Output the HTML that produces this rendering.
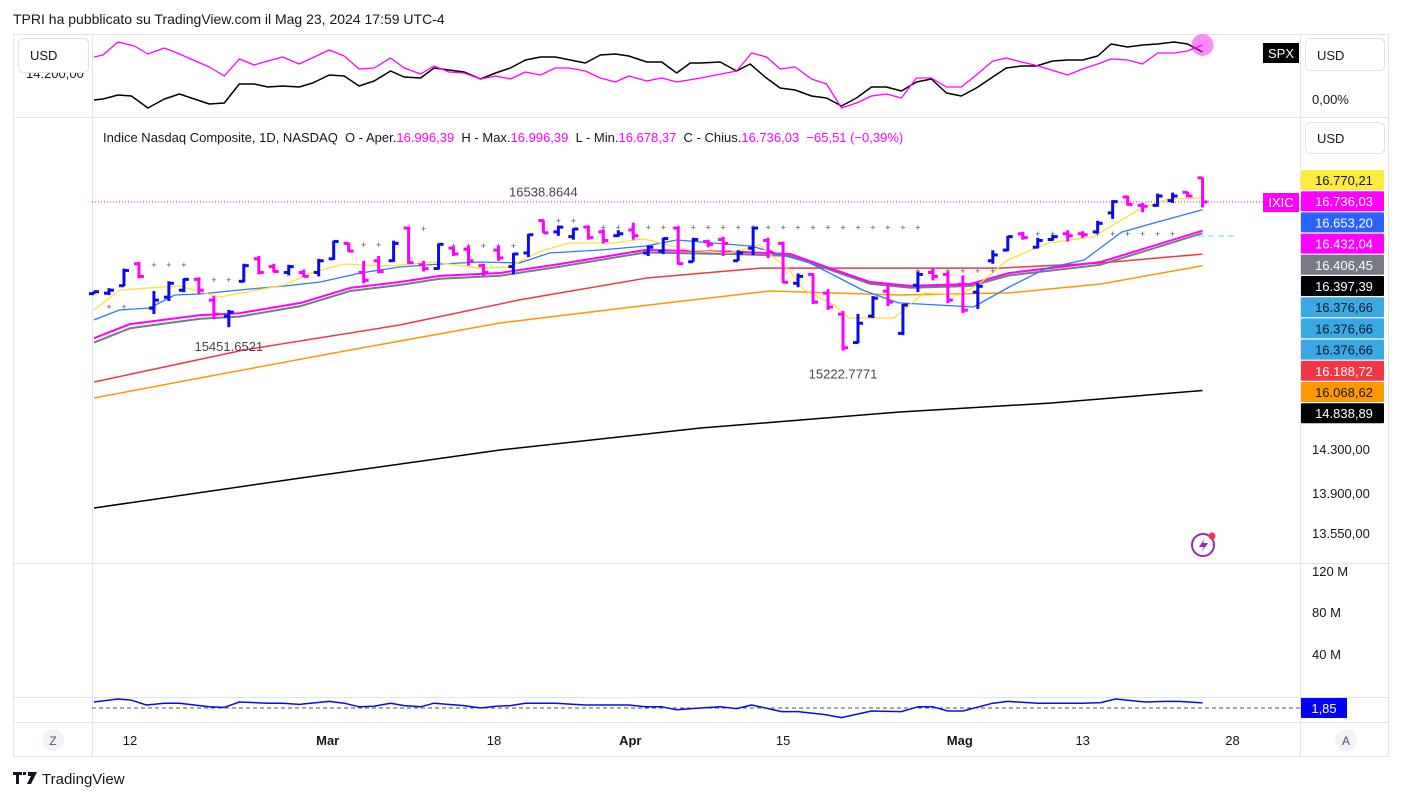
<!DOCTYPE html>
<html><head><meta charset="utf-8"><style>
html,body{margin:0;padding:0;background:#fff;width:1401px;height:801px;overflow:hidden}
svg{display:block;font-family:"Liberation Sans",sans-serif}
</style></head><body>
<svg id="c" width="1401" height="801" viewBox="0 0 1401 801" xmlns="http://www.w3.org/2000/svg">
<text x="13" y="24" font-size="14" fill="#131722">TPRI ha pubblicato su TradingView.com il Mag 23, 2024 17:59 UTC-4</text>
<rect x="13.5" y="34.5" width="1375" height="722" fill="none" stroke="#e0e3eb"/>
<g stroke="#e0e3eb">
<line x1="13" y1="117.5" x2="1388" y2="117.5"/><line x1="13" y1="563.5" x2="1388" y2="563.5"/>
<line x1="13" y1="697.5" x2="1388" y2="697.5"/><line x1="13" y1="722.5" x2="1388" y2="722.5"/>
<line x1="92.5" y1="34" x2="92.5" y2="757"/><line x1="1300.5" y1="34" x2="1300.5" y2="757"/>
</g>
<text x="26" y="78" font-size="13" fill="#131722">14.200,00</text>
<rect x="18.5" y="38.5" width="70" height="34" rx="5" fill="#fff" stroke="#e0e3eb"/>
<text x="30" y="60" font-size="13" fill="#131722">USD</text>
<rect x="1305.5" y="38.5" width="79" height="32" rx="5" fill="#fff" stroke="#e0e3eb"/>
<text x="1317" y="60" font-size="13" fill="#131722">USD</text>
<text x="1312" y="104" font-size="13" fill="#131722">0,00%</text>
<rect x="1305.5" y="122.5" width="79" height="31" rx="5" fill="#fff" stroke="#e0e3eb"/>
<text x="1317" y="143" font-size="13" fill="#131722">USD</text>
<text x="1312" y="454" font-size="13" fill="#131722">14.300,00</text>
<text x="1312" y="498" font-size="13" fill="#131722">13.900,00</text>
<text x="1312" y="538" font-size="13" fill="#131722">13.550,00</text>
<text x="1312" y="576" font-size="13" fill="#131722">120 M</text>
<text x="1312" y="617" font-size="13" fill="#131722">80 M</text>
<text x="1312" y="659" font-size="13" fill="#131722">40 M</text>
<g id="dates" font-size="13" fill="#131722" text-anchor="middle"></g>
<circle cx="53" cy="740" r="11" fill="#f0f3fa"/>
<text x="53" y="745" font-size="12" text-anchor="middle" fill="#555">Z</text>
<circle cx="1346" cy="740" r="11" fill="#f0f3fa"/>
<text x="1346" y="745" font-size="12" text-anchor="middle" fill="#555">A</text>
<text x="103" y="142" font-size="13" fill="#131722" style="white-space:pre">Indice Nasdaq Composite, 1D, NASDAQ  O - Aper.<tspan fill="#ff00ff">16.996,39</tspan>  H - Max.<tspan fill="#ff00ff">16.996,39</tspan>  L - Min.<tspan fill="#ff00ff">16.678,37</tspan>  C - Chius.<tspan fill="#ff00ff">16.736,03  −65,51 (−0,39%)</tspan></text>
<g id="topPanel"></g>
<g id="mainPanel"></g>
<g id="botPanel"></g>
<g id="tags" font-size="13"></g>
<rect x="1263" y="43" width="36" height="20" fill="#000"/>
<text x="1281" y="58" font-size="13" fill="#fff" text-anchor="middle">SPX</text>
<rect x="1263" y="193" width="36" height="19" fill="#ff00ff"/>
<text x="1281" y="207" font-size="13" fill="#fff" text-anchor="middle">IXIC</text>
<rect x="1301" y="698" width="46" height="20" fill="#0000ff"/>
<text x="1324" y="713" font-size="13" fill="#fff" text-anchor="middle">1,85</text>
<g>
<circle cx="1203" cy="545" r="11" fill="none" stroke="#9c27b0" stroke-width="2"/>
<path d="M1205 538 L1199 547 L1204 547 L1201 553 L1208 543 L1203 543 Z" fill="#9c27b0"/>
<circle cx="1212" cy="536" r="3.5" fill="#f23645"/>
</g>
<g>
<path d="M13 772 h9 v3 h-3 v9 h-3 v-9 h-3 z M23 772 h3 v3 h-3 z M28 772 h9 l-6 12 h-4 l4 -8 h-3 z" fill="#131722"/>
<text x="42" y="784" font-size="15" fill="#131722">TradingView</text>
</g>
</svg>
<script>
// ---- data ----
const dateLabels = ["12","Mar","18","Apr","15","Mag","13","28"];
const dateIdx = [2.4,15.6,26.7,35.8,46,57.8,66,76];
const barO = [15785,15790,15865,16090,15640,15750,15820,15930,15720,15560,15910,16140,16060,16000,16000,16000,16140,16300,16000,16120,16120,16460,16080,16040,16250,16240,16070,16230,16060,16200,16539,16420,16370,16470,16420,16380,16440,16200,16220,16460,16110,16320,16340,16120,16250,16330,16300,15890,15980,15790,15580,15300,15560,15810,15390,15870,16000,15980,15880,15800,16120,16230,16400,16260,16340,16400,16400,16420,16620,16790,16700,16700,16750,16840,16996];
const barH = [15811,15840,16040,16109,15811,15910,15940,15950,15761,15622,16089,16169,16089,16079,16030,16139,16328,16308,16119,16169,16328,16477,16119,16298,16268,16278,16089,16278,16199,16398,16539,16487,16457,16487,16447,16437,16517,16278,16358,16477,16358,16338,16368,16229,16477,16358,16318,15990,15990,15831,15612,15582,15761,15880,15681,16010,16050,16010,15970,15890,16229,16378,16418,16358,16388,16437,16428,16537,16756,16806,16726,16826,16836,16845,16996];
const barL = [15781,15771,15860,15940,15582,15711,15800,15781,15532,15451,15900,15980,16000,15970,15950,15960,16130,16209,15890,15990,16109,16089,16010,16030,16169,16070,15960,16119,15980,16159,16408,16378,16338,16338,16298,16368,16338,16169,16189,16080,16109,16258,16169,16119,16179,16149,15890,15850,15681,15622,15223,15293,15542,15661,15373,15801,15920,15691,15592,15632,16089,16219,16338,16249,16328,16318,16358,16408,16557,16696,16627,16686,16726,16786,16678];
const barC = [15805,15820,16020,15960,15720,15890,15930,15820,15580,15600,16070,16000,16010,16060,15960,16120,16320,16220,15920,16010,16300,16100,16040,16290,16190,16120,16000,16150,16190,16390,16410,16470,16450,16360,16330,16400,16380,16260,16350,16090,16340,16290,16300,16200,16460,16210,15900,15960,15700,15650,15250,15490,15740,15700,15670,15980,15960,15720,15620,15860,16180,16370,16360,16330,16370,16380,16390,16510,16740,16710,16690,16800,16800,16800,16736];
const maYellowIdx = [0,1.7,5.7,8.4,12.7,14.7,16.7,19.7,22.7,25.7,27.7,29.7,31.7,34.7,36.7,39.7,42.4,44.4,46.4,47.4,49.4,50.4,53.4,55.4,57.7,59,61,63.7,66.7,69.7,71.7,74];
const maYellow = [15621,15822,15863,15751,15873,16005,16087,16067,16107,16045,16056,16211,16304,16304,16346,16231,16200,16283,16025,15822,15672,15542,15542,15793,15772,15873,16128,16304,16367,16650,16768,16779];
const maBlueIdx = [0,1.7,3.7,5.4,7.1,9.7,12.8,15.1,17.8,20.4,23.1,25.8,28.4,30.4,33.8,36.8,38.9,43.9,47.8,51.3,53.7,56.2,58.7,61.1,63.6,66.1,68.6,71,74];
const maBlue = [15523,15621,15641,15772,15782,15822,15863,15903,15995,16056,16087,16107,16097,16200,16231,16272,16335,16272,16097,15822,15692,15672,15651,15852,16045,16128,16418,16524,16653];
const maSlowIdx = [0,2.4,7.1,9.7,13.8,17.1,20.4,23.1,27.1,31.1,36.8,43.1,46.5,49.1,51.8,54.5,58.5,61.1,67.2,74];
const maMagenta = [15343,15481,15571,15590,15692,15843,15903,15965,15995,16087,16231,16211,16189,16045,15903,15863,15883,15995,16107,16432];
const maGray = [15300,15440,15535,15556,15660,15812,15873,15936,15967,16060,16205,16188,16170,16030,15885,15845,15862,15970,16080,16406];
const maRedIdx = [0,10,20.4,28.4,36.9,44.5,53.8,60.5,67.2,74];
const maRed = [14920,15228,15473,15722,15944,16045,16045,16045,16097,16189];
const maOrangeIdx = [0,7.1,17.1,27.1,37.1,45.1,53.8,61.1,67.2,74];
const maOrange = [14768,14959,15228,15492,15672,15812,15772,15793,15883,16069];
const maBlackIdx = [0,13.8,27.1,40.5,53.8,63.8,74];
const maBlack = [13767,14033,14286,14488,14637,14720,14839];
const crossStart = [1,4,7,17,21,24,30,33,55,62];
const crossEnd = [2,6,9,19,22,28,32,55,60,72];
const crossPrice = [15651,16076,15923,16283,16450,16272,16534,16465,16015,16398];
const lastClose = 16736;
const topMagIdx = [0,0.6,1.6,2.7,3.6,4.7,5.7,7.7,8.7,9.7,10.7,11.6,12.6,13.7,15.7,16.7,17.7,18.7,19.8,20.7,21.8,22.7,23.7,24.7,25.8,26.8,27.8,28.8,29.8,30.8,31.7,32.8,33.8,34.8,35.7,36.9,37.9,38.9,40.5,42.9,43.9,44.9,45.8,46.8,47.9,48.9,49.9,50.9,51.9,52.9,53.9,54.9,55.9,56.9,57.9,58.9,60,60.9,61.9,62.8,65,66,67,67.9,69,70,71,72.1,73,74];
const topMag = [4.2,4.4,5.7,5.3,4.5,5.1,4.5,3.2,2.3,4.0,3.4,3.8,4.2,3.5,4.9,4.3,3.0,3.1,4.1,3.1,2.5,3.3,2.7,2.6,2.0,2.3,2.0,2.7,2.4,3.1,3.1,2.8,2.1,1.7,2.3,1.8,2.1,1.7,2.1,2.8,4.6,4.2,3.0,3.2,2.0,1.5,-0.9,-0.4,0.3,0.5,0.1,2.1,2.1,1.2,1.2,2.4,3.8,4.1,3.7,3.4,2.4,3.0,3.5,4.0,3.9,3.5,4.6,4.6,4.8,5.4];
const topBlkIdx = [0,0.6,1.6,2.5,3.6,4.7,5.7,7.7,8.7,9.7,10.7,11.6,12.6,13.7,14.6,15.7,16.7,17.7,18.7,19.8,20.7,21.8,22.7,24.7,25.8,26.8,27.8,28.8,29.8,30.8,32.8,33.8,34.8,35.7,36.9,37.9,38.9,39.8,40.5,41.8,42.9,43.8,44.8,45.8,46.8,47.9,48.9,49.9,50.9,51.9,52.9,53.9,54.9,55.9,56.9,57.9,58.9,60,60.9,61.9,62.9,64,65,66,67,67.9,69,70,71,72.1,73,74];
const topBlk = [-0.1,0,0.4,0.3,-0.9,0,0.5,-0.5,-0.4,1.5,1.5,1.2,1.3,1.2,1.6,2.4,2.3,1.3,1.8,2.8,2.2,2.1,3.1,2.7,2.0,2.6,3.1,3.9,4.2,4.2,3.6,4.4,4.5,4.3,3.7,3.7,2.6,3.6,3.6,3.7,2.8,3.5,2.2,1.1,0.9,0.3,0.1,-0.7,0.1,1.2,1.2,0.8,1.7,2.0,0.6,0.3,1.1,2.2,3.1,3.3,3.3,3.8,3.9,3.9,4.3,5.5,5.2,5.4,5.5,5.7,5.5,4.7];
const botIdx = [0,1.6,2.5,3.5,4.7,5.7,7.7,8.7,9.7,11.6,12.6,13.7,15.7,16.7,17.7,18.7,19.8,20.7,21.8,22.7,24.7,25.8,26.8,27.8,28.8,30.8,32.8,35.7,36.8,37.9,38.9,40.5,41.8,42.9,43.9,45.9,47,48.8,49.9,51.9,53.9,55,56,57,58,60,61,63,66,67.2,68.2,70.2,71.5,72.4,74];
const botVal = [2.0,2.5,2.3,1.5,1.8,1.8,1.2,1.1,2.0,1.8,1.8,1.6,2.1,1.8,1.2,1.3,1.8,1.4,1.2,1.8,1.4,1.0,1.3,1.4,1.8,1.8,1.5,1.5,1.2,1.2,0.7,1.0,1.2,0.9,1.5,0.4,0.4,-0.1,-0.6,0.5,0.4,1.2,1.2,0.5,0.5,1.8,2.1,1.8,1.8,1.9,2.5,2.0,2.1,2.1,1.85];
const tagText = ["16.770,21","16.736,03","16.653,20","16.432,04","16.406,45","16.397,39","16.376,66","16.376,66","16.376,66","16.188,72","16.068,62","14.838,89"];
const tagBg = ["#ffeb3b","#ff00ff","#2962ff","#ff00ff","#787b86","#000000","#3aa8e4","#3aa8e4","#3aa8e4","#f23645","#ff9800","#000000"];
const tagFg = ["#131722","#ffffff","#ffffff","#ffffff","#ffffff","#ffffff","#131722","#131722","#131722","#ffffff","#131722","#ffffff"];

(function(){
const NS="http://www.w3.org/2000/svg";
const X = i => 94 + i*14.98;
const Y = p => 202 - 1567*Math.log(p/16736);
const YT = v => 99 - v*10;
const YB = v => 708 - (v-1)*6;
function mk(tag, attrs, parent){const e=document.createElementNS(NS,tag);for(const k in attrs)e.setAttribute(k,attrs[k]);parent.appendChild(e);return e;}
function drawLine(idx, vals, ys, color, w, parent, name){
  const d = idx.map((i,k)=>(k?'L':'M')+X(i).toFixed(1)+' '+ys(vals[k]).toFixed(1)).join(' ');
  const p = mk('path',{d:d,fill:'none',stroke:color,'stroke-width':w,'stroke-linejoin':'round'},parent);
  
  
  return p;
}
const dates=document.getElementById('dates');
dateLabels.forEach((t,k)=>{const e=mk('text',{x:X(dateIdx[k]).toFixed(1),y:745,'font-weight':(isNaN(+t)?'bold':'normal')},dates);e.textContent=t;

});

const topG=document.getElementById('topPanel');
drawLine(topBlkIdx, topBlk, YT, '#000000', 1.5, topG, 'spx-comparison-line');
drawLine(topMagIdx, topMag, YT, '#ff00ff', 1.3, topG, 'ixic-comparison-line');
const dot=mk('circle',{cx:X(74),cy:YT(topMag[topMag.length-1]),r:11,fill:'#ff00ff','fill-opacity':0.45},topG);



const mainG=document.getElementById('mainPanel');
const pl=mk('line',{x1:92,x2:1263,y1:Y(lastClose),y2:Y(lastClose),stroke:'#ff00ff','stroke-dasharray':'1 2'},mainG);


const cy=mk('line',{x1:1198,x2:1237,y1:236,y2:236,stroke:'#7fd3f5','stroke-dasharray':'6 4'},mainG);


drawLine(maBlackIdx, maBlack, Y, '#000000', 1.5, mainG, 'ma-200-line');
drawLine(maOrangeIdx, maOrange, Y, '#ff9800', 1.5, mainG, 'ma-100-line');
drawLine(maRedIdx, maRed, Y, '#f23645', 1.5, mainG, 'ma-50-line');
drawLine(maSlowIdx, maGray, Y, '#787b86', 2, mainG, 'ma-gray-line');
drawLine(maSlowIdx, maMagenta, Y, '#ff00ff', 2, mainG, 'ma-20-line');
drawLine(maBlueIdx, maBlue, Y, '#3179f5', 1.3, mainG, 'ma-10-line');
drawLine(maYellowIdx, maYellow, Y, '#ffe033', 1.3, mainG, 'ma-5-line');
crossStart.forEach((s,k)=>{for(let i=s;i<=crossEnd[k];i++){const t=mk('text',{x:X(i),y:Y(crossPrice[k])+3,'font-size':9,fill:'#555','text-anchor':'middle'},mainG);t.textContent='+';

}});
barO.forEach((o,i)=>{
  const col = barC[i]>=o ? '#0a0af0' : '#ff00ff';
  const x=X(i);
  const g=mk('g',{stroke:col,'stroke-width':3,fill:'none'},mainG);
  
  
  mk('line',{x1:x,x2:x,y1:Y(barH[i]),y2:Y(barL[i])},g);
  mk('line',{x1:x-5,x2:x,y1:Y(o),y2:Y(o)},g);
  mk('line',{x1:x,x2:x+5,y1:Y(barC[i]),y2:Y(barC[i])},g);
});
const hiLbl=mk('text',{x:X(30),y:Y(16539)-24,'font-size':13,fill:'#434651','text-anchor':'middle'},mainG);hiLbl.textContent='16538.8644';


const l1=mk('text',{x:X(9),y:Y(15451)+24,'font-size':13,fill:'#434651','text-anchor':'middle'},mainG);l1.textContent='15451.6521';


const l2=mk('text',{x:X(50),y:Y(15223)+28,'font-size':13,fill:'#434651','text-anchor':'middle'},mainG);l2.textContent='15222.7771';



const botG=document.getElementById('botPanel');
const bl=mk('line',{x1:92,x2:1300,y1:YB(1),y2:YB(1),stroke:'#555','stroke-dasharray':'4 3'},botG);


drawLine(botIdx, botVal, YB, '#0a0af0', 1.5, botG, 'indicator-line');

const tags=document.getElementById('tags');
tagText.forEach((t,k)=>{const y0=170+k*21.2;
  const r=mk('rect',{x:1301,y:y0.toFixed(1),width:83,height:20,fill:tagBg[k],rx:1},tags);
  
  
  const e=mk('text',{x:1344,y:(y0+15).toFixed(1),fill:tagFg[k],'text-anchor':'middle'},tags);e.textContent=t;
  
  
});
})();
</script>
</body></html>
